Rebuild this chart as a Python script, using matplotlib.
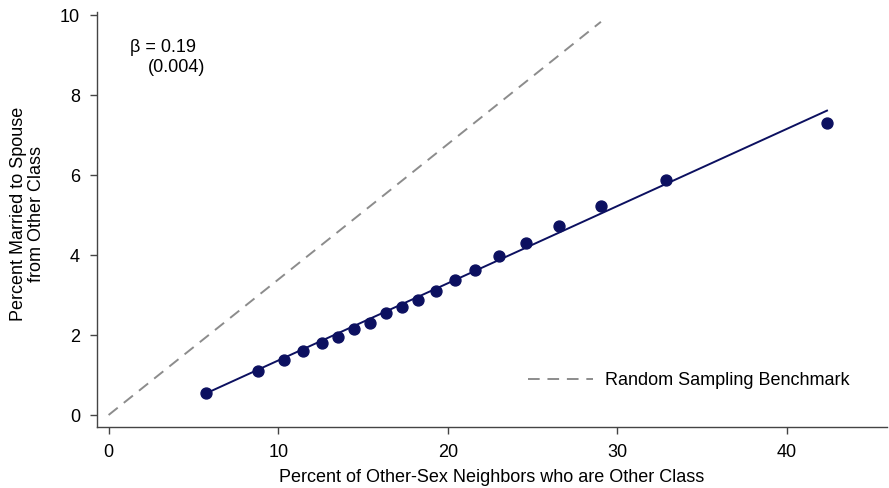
import matplotlib.pyplot as plt

plt.rcParams['font.family'] = ['Liberation Sans', 'DejaVu Sans']

# binned scatter: percent of other-sex neighbours who are other class vs percent married across class
pct_neighbors = [5.74, 8.79, 10.32, 11.48, 12.57, 13.55, 14.47, 15.40, 16.36, 17.29,
                 18.25, 19.29, 20.41, 21.63, 23.03, 24.62, 26.55, 29.06, 32.88, 42.36]
pct_married = [0.54, 1.10, 1.38, 1.60, 1.80, 1.94, 2.14, 2.30, 2.55, 2.71,
               2.87, 3.11, 3.37, 3.63, 3.97, 4.31, 4.73, 5.23, 5.88, 7.29]

# fitted line endpoints
fit_x = [5.74, 42.36]
fit_y = [0.54, 7.61]

# random sampling benchmark endpoints
bench_x = [0, 29.03]
bench_y = [0, 9.83]

xticks = [0, 10, 20, 30, 40]
yticks = [0, 2, 4, 6, 8, 10]

navy = '#0c1060'
fs = 13

fig = plt.figure(figsize=(8.89, 4.88), dpi=100)
ax = fig.add_axes([0.1088, 0.125, 0.889, 0.85])

ax.plot(bench_x, bench_y, color='#8c8c8c', lw=1.4, dashes=(6, 4),
        label='Random Sampling Benchmark')
ax.plot(fit_x, fit_y, color=navy, lw=1.4)
ax.scatter(pct_neighbors, pct_married, s=62, color=navy, zorder=3)

ax.text(1.25, 9.2, 'β = 0.19', fontsize=fs, va='center')
ax.text(2.3, 8.7, '(0.004)', fontsize=fs, va='center')

ax.set_xlim(-0.7, 45.9)
ax.set_ylim(-0.3, 10.07)
ax.set_xticks(xticks)
ax.set_yticks(yticks)
ax.tick_params(labelsize=fs, length=5, width=1, color='#444444', pad=7)

for s in ['top', 'right']:
    ax.spines[s].set_visible(False)
for s in ['left', 'bottom']:
    ax.spines[s].set_color('#444444')
    ax.spines[s].set_linewidth(1)

ax.set_xlabel('Percent of Other-Sex Neighbors who are Other Class', fontsize=fs, labelpad=6)
fig.text(27.5 / 889, 1 - 214 / 488, 'Percent Married to Spouse\nfrom Other Class',
         fontsize=fs, rotation=90, ha='center', va='center', multialignment='center',
         linespacing=1.05)

ax.legend(loc='center right', bbox_to_anchor=(0.953, 0.111), frameon=False, fontsize=fs,
          handlelength=3.6, handletextpad=0.7, borderpad=0, borderaxespad=0)

fig.savefig('out.png', dpi=100)
